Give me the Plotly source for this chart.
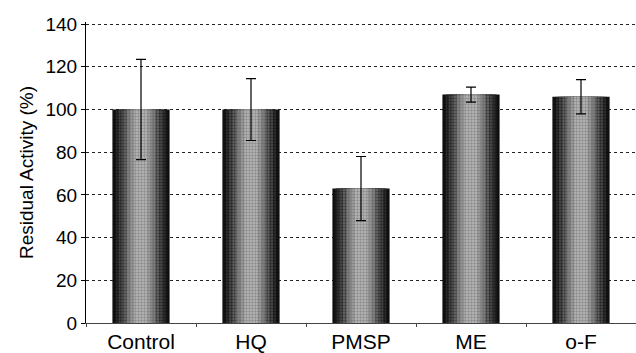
import plotly.graph_objects as go

# Treatment groups and measured residual activity (%)
categories = ["Control", "HQ", "PMSP", "ME", "o-F"]
activity = [100, 100, 63, 107, 106]
activity_err = [23.5, 14.5, 15, 3.5, 8]

# Bars are built from nested layers to give a shaded cylinder look:
# dark outer edges fading to a light centre.
layer_widths = [0.52, 0.46, 0.40, 0.33, 0.26, 0.19, 0.12]
layer_colors = ["#121212", "#2a2a2a", "#444444", "#606060", "#7c7c7c", "#979797", "#b0b0b0"]

fig = go.Figure()
for i, (w, c) in enumerate(zip(layer_widths, layer_colors)):
    last = i == len(layer_widths) - 1
    fig.add_trace(go.Bar(
        x=categories,
        y=activity,
        width=w,
        marker=dict(
            color=c,
            line=dict(width=0),
            pattern=dict(shape="+", size=3, solidity=0.3,
                         fgcolor="#000000" if i < 4 else "#555555",
                         fillmode="overlay"),
        ),
        error_y=dict(type="data", array=activity_err, visible=last,
                     color="#000000", thickness=1.2, width=5),
        showlegend=False,
        hoverinfo="skip" if not last else None,
    ))

fig.update_layout(
    width=636, height=353,
    margin=dict(l=86, r=0, t=22, b=27),
    barmode="overlay",
    plot_bgcolor="white",
    paper_bgcolor="white",
    font=dict(family="Liberation Sans, Arial, sans-serif", color="#000000"),
)

fig.update_yaxes(
    range=[0, 141],
    tickvals=[0, 20, 40, 60, 80, 100, 120, 140],
    ticks="outside", ticklen=4, tickcolor="#000000",
    showline=True, linecolor="#000000", linewidth=1.2,
    showgrid=True, gridcolor="#222222", gridwidth=1, griddash="3px,3px",
    zeroline=False,
    tickfont=dict(size=19),
    title=dict(text="Residual Activity (%)", font=dict(size=19), standoff=6),
)

fig.update_xaxes(
    showline=True, linecolor="#444444", linewidth=1,
    ticks="outside", ticklen=3, tickcolor="#444444",
    tickson="boundaries",
    showgrid=False,
    tickfont=dict(size=21),
)

fig.write_html("out.html")
